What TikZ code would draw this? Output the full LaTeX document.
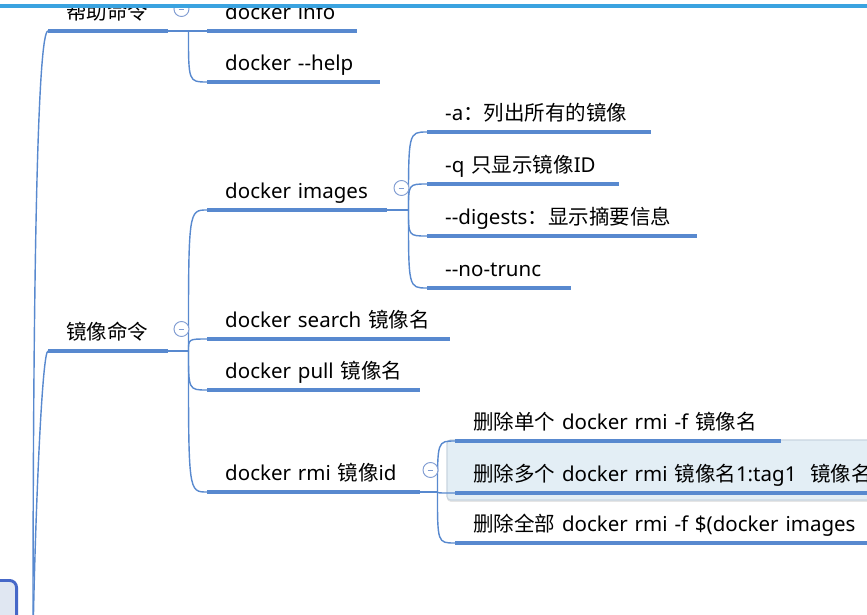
\documentclass[tikz,border=0pt]{standalone}
\usepackage{fontspec}
\setmainfont{Noto Sans}
\newfontfamily\zhfont{Noto Sans CJK SC}
\newcommand{\zh}[1]{{\zhfont #1}}
\usetikzlibrary{positioning, calc, shadows}

\definecolor{mapblue}{RGB}{88,137,207}
\definecolor{edgeblue}{RGB}{58,163,224}
\definecolor{foldblue}{RGB}{128,156,210}
\definecolor{selfill}{RGB}{227,238,245}
\definecolor{selline}{RGB}{200,212,224}
\definecolor{rootblue}{RGB}{70,104,200}
\definecolor{rootfill}{RGB}{224,231,242}

\tikzset{
  uline/.style={draw=mapblue, line width=3.7pt},
  topic/.style={anchor=south west, inner xsep=0pt, inner ysep=0.33cm, text depth=0pt,
    text width=#1, align=left, font=\fontsize{17.5}{21}\selectfont, text=black,
    execute at begin node={\hspace*{0.54cm}},
    append after command={(\tikzlastnode.south west) edge[uline] (\tikzlastnode.south east)}},
  branch/.style={draw=mapblue, line width=1.2pt},
  fold/.style={circle, draw=foldblue, line width=0.8pt, fill=white, minimum size=0.45cm, inner sep=0pt,
    path picture={\draw[foldblue, line width=0.8pt] ([xshift=-2.5pt]path picture bounding box.center) -- ([xshift=2.5pt]path picture bounding box.center);}},
  rootbox/.style={rectangle, rounded corners=6pt, draw=rootblue, line width=2.5pt, fill=rootfill,
    minimum width=3cm, minimum height=3cm},
  selbox/.style={fill=selfill, draw=selline, line width=1pt, rounded corners=3pt,
    drop shadow={opacity=0.2, shadow xshift=0pt, shadow yshift=-1.5pt}}
}

\begin{document}
\begin{tikzpicture}[x=0.03cm, y=-0.03cm]
  \useasboundingbox (0,0) rectangle (867,614);
  \fill[white] (0,0) rectangle (867,614);

  \begin{scope}
    \clip (0,7) rectangle (867,614);

    % Radice
    \node[rootbox, anchor=north east] (root) at (18,579) {};
    \coordinate (rootout) at (33,640);

    % Selezione
    \draw[selbox] (447,440) rectangle (900,500);

    % Primo livello
    \node[topic=3.6cm] (help) at (48,31) {\zh{帮助命令}};
    \node[topic=3.6cm] (mirror) at (48,351) {\zh{镜像命令}};

    % Comandi di aiuto
    \node[topic=4.5cm] (info) at (207,31) {docker info};
    \node[topic=5.19cm] (helpc) at (207,82) {docker -{}-help};

    % Comandi immagini
    \node[topic=5.4cm] (imgs) at (207,210) {docker images};
    \node[topic=7.29cm] (search) at (207,339) {docker search \zh{镜像名}};
    \node[topic=6.39cm] (pull) at (207,390) {docker pull \zh{镜像名}};
    \node[topic=6.39cm] (rmi) at (207,492) {docker rmi \zh{镜像}id};

    % Opzioni di docker images
    \node[topic=6.72cm] (opta) at (427,132) {-a\zh{：列出所有的镜像}};
    \node[topic=5.76cm] (optq) at (427,184) {-q \zh{只显示镜像}ID};
    \node[topic=8.1cm] (optd) at (427,236) {-{}-digests\zh{：显示摘要信息}};
    \node[topic=4.32cm] (optn) at (427,288) {-{}-no-trunc};

    % Opzioni di docker rmi
    \node[topic=9.78cm] (rmone) at (455,441) {\zh{删除单个} docker rmi -f \zh{镜像名}};
    \node[topic=13cm] (rmmany) at (455,493) {\zh{删除多个} docker rmi \zh{镜像名}1:tag1\ \ \zh{镜像名}};
    \node[topic=13cm] (rmall) at (455,543) {\zh{删除全部} docker rmi -f \$(docker images};

    % Connessioni
    \draw[branch] (rootout) .. controls (33,250) and (38,31) .. (help.south west);
    \draw[branch] (rootout) .. controls (35,520) and (42,351) .. (mirror.south west);

    \coordinate (helpfork) at ($(help.south east)+(20,0)$);
    \draw[branch] (help.south east) -- (helpfork) -- (info.south west);
    \draw[branch] (helpfork) .. controls (helpfork |- helpc.south west) .. (helpc.south west);

    \coordinate (mirrorfork) at ($(mirror.south east)+(20,0)$);
    \draw[branch] (mirror.south east) -- (mirrorfork);
    \foreach \c in {imgs,search,pull,rmi}
      \draw[branch] (mirrorfork) .. controls (mirrorfork |- \c.south west) .. (\c.south west);

    \coordinate (imgsfork) at ($(imgs.south east)+(21,0)$);
    \draw[branch] (imgs.south east) -- (imgsfork);
    \foreach \c in {opta,optq,optd,optn}
      \draw[branch] (imgsfork) .. controls (imgsfork |- \c.south west) .. (\c.south west);

    \coordinate (rmifork) at ($(rmi.south east)+(17,0)$);
    \draw[branch] (rmi.south east) -- (rmifork);
    \foreach \c in {rmone,rmmany,rmall}
      \draw[branch] (rmifork) .. controls (rmifork |- \c.south west) .. (\c.south west);

    % Pulsanti di chiusura
    \node[fold] (helpfold) at ([shift={(-7,-22)}]helpfork) {};
    \node[fold] (mirrorfold) at ([shift={(-7,-22)}]mirrorfork) {};
    \node[fold] (imgsfold) at ([shift={(-7,-22)}]imgsfork) {};
    \node[fold] (rmifold) at ([shift={(-7,-22)}]rmifork) {};
  \end{scope}

  % Bordo superiore
  \draw[edgeblue, line width=3pt] (0,6) -- (867,6);
\end{tikzpicture}
\end{document}
